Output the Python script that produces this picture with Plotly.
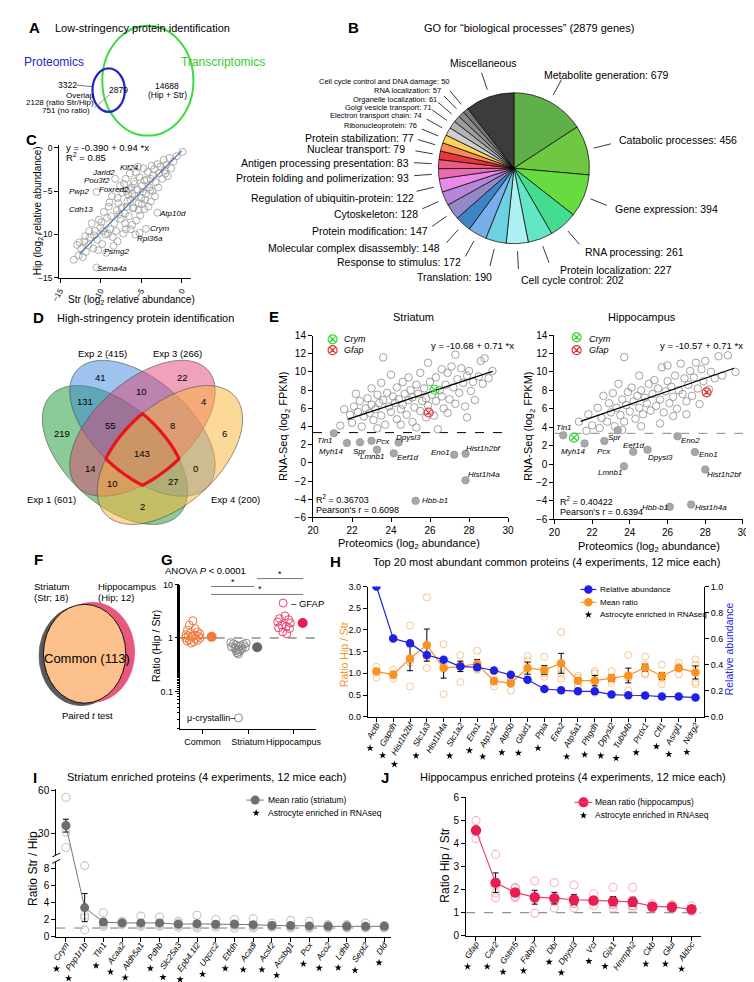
import numpy as np
import plotly.graph_objects as go

W, H = 754, 982
FONT = "Liberation Sans, Arial, Helvetica, sans-serif"

# ======================= DATA =======================
# ---- A: low-stringency identification
a_prot_only = 3322
a_overlap = 2879
a_transcr = 14688

# ---- B: GO pie (clockwise from 12 o'clock)
go_labels = ["Metabolite generation", "Catabolic processes", "Gene expression", "RNA processing",
             "Protein localization", "Cell cycle control", "Translation", "Response to stimulus",
             "Molecular complex disassembly", "Protein modification", "Cytoskeleton",
             "Regulation of ubiquitin-protein", "Protein folding and polimerization",
             "Antigen processing presentation", "Nuclear transport", "Protein stabilization",
             "Ribonucleoprotein", "Electron transport chain", "Golgi vesicle transport",
             "Organelle localization", "RNA localization", "Cell cycle control and DNA damage",
             "Miscellaneous"]
go_values = [679, 456, 394, 261, 227, 202, 190, 172, 148, 147, 128, 122, 93, 83, 79, 77, 76, 74, 71,
             61, 57, 50, 450]
go_colors = ["#5fb04a", "#6fc842", "#66dc40", "#44dc8e", "#62e6c6", "#aef1f2", "#6cd2e2", "#78aeea",
             "#3f84c6", "#9488c6", "#b686da", "#e88ae6", "#ec6cb4", "#ec5a7e", "#e6363e", "#f98a58",
             "#fcd25c", "#d0d0d0", "#b3b3b3", "#9c9c9c", "#8a8a8a", "#777777", "#3c3c3c"]

# ---- C: Str vs Hip relative abundance (log2)
c_points = [(0.1, -0.5), (-0.6, -1.0), (-1.0, -1.6), (-1.5, -1.2), (-1.3, -2.4), (-1.9, -2.0),
            (-2.2, -1.4), (-2.0, -3.0), (-2.6, -2.2), (-2.4, -3.6), (-2.8, -3.0), (-3.0, -1.9),
            (-3.2, -4.0), (-2.9, -4.6), (-3.5, -3.2), (-3.4, -2.5), (-3.0, -7.5), (-3.8, -3.6),
            (-4.0, -4.6), (-4.2, -2.8), (-4.4, -5.3), (-4.6, -3.8), (-4.7, -2.4), (-4.9, -4.4),
            (-5.0, -5.8), (-5.2, -3.4), (-5.3, -6.4), (-5.5, -4.8), (-5.6, -2.9), (-5.8, -5.6),
            (-5.9, -3.9), (-6.0, -7.0), (-6.2, -4.6), (-6.3, -6.0), (-6.5, -4.8), (-6.6, -5.4),
            (-6.8, -6.8), (-6.9, -3.6), (-7.0, -7.6), (-4.4, -9.35), (-5.7, -10.0), (-5.2, -9.8),
            (-3.8, -6.2), (-4.6, -7.1), (-5.1, -7.8), (-3.6, -5.0), (-4.1, -6.8), (-5.6, -8.4),
            (-6.1, -8.9), (-6.5, -7.9), (-4.9, -6.5), (-3.3, -5.6), (-6.9, -9.4), (-7.3, -5.2),
            (-7.5, -8.2), (-7.2, -9.9), (-7.8, -6.4), (-8.2, -3.6), (-7.6, -4.4), (-8.0, -7.2),
            (-8.3, -8.7), (-8.6, -5.6), (-8.8, -9.4), (-8.5, -10.3), (-9.0, -6.8), (-9.2, -8.1),
            (-9.4, -10.0), (-9.6, -7.4), (-9.8, -11.1), (-10.0, -9.2), (-10.2, -8.3), (-10.5, -5.1),
            (-10.4, -10.6), (-10.7, -9.6), (-10.9, -11.6), (-11.1, -8.7), (-11.3, -10.3),
            (-11.5, -11.2), (-11.8, -12.0), (-12.0, -10.8), (-12.4, -11.6), (-12.7, -12.4),
            (-12.9, -11.2), (-13.3, -12.9), (-10.5, -13.8), (-9.3, -12.1), (-8.4, -11.3),
            (-7.9, -10.8), (-6.4, -3.0), (-5.4, -2.2), (-7.1, -4.2), (-7.4, -6.9), (-6.7, -6.2),
            (-5.9, -6.9), (-4.8, -5.1), (-4.3, -3.7), (-3.9, -4.9), (-6.1, -5.3), (-7.7, -7.7),
            (-8.7, -7.9), (-9.9, -8.6), (-9.1, -9.9), (-8.1, -9.6), (-10.8, -10.1), (-11.4, -9.6),
            (-12.2, -12.6), (-2.1, -2.6), (-1.7, -3.3), (-3.7, -2.1), (-4.5, -6.0), (-5.8, -4.2),
            (-6.8, -5.0), (-7.9, -5.8), (-8.9, -6.3), (-9.7, -9.6), (-10.3, -11.8), (-11.9, -10.2),
            (-12.6, -10.9), (-6.3, -9.4), (-7.0, -8.7), (-5.3, -7.2)]
c_intercept, c_slope = -0.390, 0.94
c_fit_x = [-12.6, 0.0]

# ---- D: high-stringency 4-way overlap
d_region_counts = [41, 22, 10, 131, 4, 55, 8, 219, 6, 143, 14, 0, 10, 27, 2]
d_set_labels = ["Exp 1 (601)", "Exp 2 (415)", "Exp 3 (266)", "Exp 4 (200)"]

# ---- E: proteomics vs RNA-seq
e_str_pts = [(21.6, 5.9), (21.9, 5.3), (22.1, 6.2), (22.3, 5.6), (22.4, 6.8), (22.6, 5.1), (22.7, 6.0),
             (22.8, 7.1), (22.9, 5.5), (23.0, 6.4), (23.1, 4.7), (23.2, 5.9), (23.3, 7.5), (23.4, 6.6),
             (23.5, 5.2), (23.6, 11.6), (23.6, 6.9), (23.7, 4.2), (23.8, 7.7), (23.9, 6.2), (24.0, 5.6),
             (24.1, 7.3), (24.2, 6.6), (24.3, 4.8), (24.3, 8.3), (24.4, 7.0), (24.5, 5.9), (24.6, 8.9),
             (24.6, 6.4), (24.7, 7.6), (24.8, 5.3), (24.9, 9.4), (24.9, 6.9), (25.0, 8.0), (25.1, 4.5),
             (25.1, 7.2), (25.2, 6.1), (25.3, 8.6), (25.4, 7.6), (25.5, 5.7), (25.5, 9.9), (25.6, 6.8),
             (25.7, 8.2), (25.8, 7.1), (25.9, 11.0), (25.9, 6.3), (26.0, 8.9), (26.1, 7.5), (26.2, 5.2),
             (26.3, 9.4), (26.3, 6.8), (26.4, 3.7), (26.5, 8.0), (26.6, 10.3), (26.6, 7.3), (26.7, 6.0),
             (26.8, 8.6), (26.9, 9.9), (27.0, 7.0), (27.1, 10.6), (27.2, 8.3), (27.3, 11.9), (27.3, 6.5),
             (27.4, 9.2), (27.5, 7.7), (27.6, 10.4), (27.7, 8.8), (27.8, 6.2), (27.9, 9.6), (28.0, 10.1),
             (28.1, 7.9), (28.2, 8.9), (28.3, 6.9), (28.5, 9.5), (28.6, 11.2), (28.7, 8.7), (28.8, 11.5),
             (29.0, 9.3), (29.2, 10.1), (22.0, 4.4), (21.4, 4.1), (22.5, 4.0), (23.3, 3.8), (24.5, 4.2),
             (25.3, 3.9), (24.0, 9.7), (23.0, 8.2), (23.5, 8.8), (22.2, 7.6), (25.8, 5.0), (26.9, 5.5),
             (27.9, 5.0)]
e_str_low = [("Tln1", 21.07, 3.26), ("Myh14", 21.74, 2.2), ("Spr", 22.41, 2.28), ("Pcx", 23.0, 2.43),
             ("Lmnb1", 23.28, 1.45), ("Dpysl3", 24.39, 2.25), ("Eef1d", 24.14, 1.05), ("Eno1", 27.24, 0.9),
             ("Hist1h2bf", 27.82, 1.01), ("Hist1h4a", 27.82, -1.92), ("Hbb-b1", 25.26, -4.17)]
e_str_crym = (26.23, 8.04)
e_str_gfap = (25.93, 5.54)
e_str_fit = (-10.68, 0.71, 21.77, 29.21)

e_hip_pts = [(21.3, 4.6), (21.8, 5.4), (22.0, 4.2), (22.3, 6.1), (22.5, 5.0), (22.6, 7.4), (22.8, 4.6),
             (22.9, 6.6), (23.0, 5.6), (23.1, 7.7), (23.2, 4.1), (23.3, 6.1), (23.4, 8.7), (23.5, 5.3),
             (23.6, 7.0), (23.7, 4.6), (23.8, 6.4), (23.9, 7.8), (24.0, 5.7), (24.1, 8.3), (24.2, 6.8),
             (24.3, 4.9), (24.4, 7.4), (24.5, 9.6), (24.5, 6.1), (24.6, 8.0), (24.7, 5.4), (24.8, 7.2),
             (24.9, 6.6), (25.0, 8.7), (25.1, 5.8), (25.2, 7.6), (25.3, 9.1), (25.4, 6.3), (25.5, 8.2),
             (25.6, 7.0), (25.7, 10.5), (25.8, 5.6), (25.9, 7.9), (26.0, 9.0), (26.1, 6.6), (26.2, 8.4),
             (26.3, 7.3), (26.4, 9.6), (26.5, 6.0), (26.6, 8.0), (26.7, 10.9), (26.8, 7.6), (26.9, 9.3),
             (27.0, 6.8), (27.1, 8.6), (27.2, 10.1), (27.3, 7.4), (27.4, 9.4), (27.5, 11.0), (27.6, 8.2),
             (27.7, 6.5), (27.8, 10.3), (27.9, 9.0), (28.0, 11.2), (28.2, 8.1), (28.3, 10.0), (28.5, 9.3),
             (28.7, 11.7), (28.9, 9.6), (29.2, 11.8), (29.6, 10.0), (23.7, 11.6), (26.0, 10.7),
             (21.7, 3.6), (22.4, 3.9), (23.6, 3.7), (24.6, 4.1), (25.6, 4.4), (26.3, 5.2), (27.0, 5.4)]
e_hip_low = [("Tln1", 20.47, 3.12), ("Myh14", 21.6, 2.23), ("Pcx", 22.65, 2.5), ("Spr", 23.36, 3.66),
             ("Eef1d", 24.18, 1.33), ("Dpysl3", 24.94, 1.55), ("Lmnb1", 23.69, -0.25), ("Eno2", 26.53, 3.01),
             ("Eno1", 27.45, 1.29), ("Hist1h2bf", 28.0, -0.6), ("Hbb-b1", 26.12, -4.65),
             ("Hist1h4a", 27.25, -4.41)]
e_hip_crym = (21.04, 2.87)
e_hip_gfap = (28.07, 7.78)
e_hip_fit = (-10.57, 0.71, 21.39, 29.53)
e_threshold = 3.33

# ---- G: ratios Hip/Str
g_common = [2.1, 1.75, 1.5, 1.4, 1.3, 1.25, 1.2, 1.15, 1.12, 1.1, 1.08, 1.05, 1.0, 1.0, 0.97, 0.93, 0.9,
            0.88, 0.85, 0.8]
g_striatum = [0.82, 0.8, 0.78, 0.76, 0.74, 0.72, 0.7, 0.68, 0.67, 0.65, 0.63, 0.62, 0.6, 0.58, 0.56,
              0.53, 0.5]
g_mu_crystallin = 0.032
g_hippocampus = [2.6, 2.3, 2.2, 2.0, 1.9, 1.75, 1.65, 1.55, 1.5, 1.3, 1.2]
g_gfap = 4.5
g_means = [1.05, 0.67, 1.9]
g_groups = ["Common", "Striatum", "Hippocampus"]

# ---- H: top 20 abundant common proteins
h_genes = ["Actb", "Gapdh", "Hist1h2bf", "Slc1a3", "Hist1h4a", "Slc1a2", "Eno1", "Atp1a2", "Atp5b",
           "Glud1", "Ppia", "Eno2", "Atp5a1", "Phgdh", "Dpysl2", "Tubb4b", "Prdx1", "Cfl1", "Asrgl1",
           "Ndrg2"]
h_rel_abund = [1.0, 0.6, 0.565, 0.474, 0.438, 0.385, 0.38, 0.355, 0.322, 0.284, 0.213, 0.203, 0.195,
               0.195, 0.17, 0.165, 0.163, 0.155, 0.155, 0.147]
h_mean = [1.04, 0.97, 1.34, 1.65, 1.12, 1.16, 1.22, 0.82, 0.77, 1.12, 1.08, 1.23, 0.83, 0.83, 0.89,
          0.95, 1.13, 0.94, 1.12, 1.02]
h_sem = [0.04, 0.04, 0.28, 0.37, 0.23, 0.12, 0.1, 0.06, 0.06, 0.14, 0.1, 0.23, 0.06, 0.12, 0.07,
         0.17, 0.08, 0.08, 0.05, 0.15]
h_reps = [[1.15, 0.9, 1.05, 1.05], [1.08, 0.88, 0.95, 0.97], [2.1, 0.7, 1.3, 1.25], [2.75, 1.12, 1.4, 1.35],
          [1.67, 0.52, 1.2, 1.1], [1.42, 0.8, 1.2, 1.2], [1.52, 1.08, 1.1, 1.18], [0.7, 0.9, 0.85, 0.82],
          [0.6, 0.85, 0.8, 0.83], [1.4, 0.85, 1.3, 0.95], [1.38, 0.92, 1.0, 1.02], [1.95, 0.87, 1.1, 1.0],
          [0.95, 0.7, 0.75, 0.9], [1.05, 0.55, 0.8, 1.0], [1.05, 0.78, 0.85, 0.9], [1.42, 0.6, 0.9, 0.9],
          [1.38, 0.97, 1.2, 1.0], [1.2, 0.75, 0.9, 0.9], [1.25, 0.98, 1.15, 1.1], [1.32, 0.75, 0.8, 1.2]]
h_astro = [1, 1, 1, 1, 0, 1, 1, 1, 1, 1, 1, 0, 1, 1, 1, 1, 1, 1, 1, 1]

# ---- I: striatum enriched
i_genes = ["Crym", "Ppp1r1b", "Tln1", "Acaa2", "Aldh5a1", "Pdhb", "Slc25a3", "Epb4.1l2", "Uqcrc2", "Etfdh",
           "Acadl", "Acsf2", "Acsbg1", "Pcx", "Aco2", "Ldhb", "Sept2", "Dld"]
i_mean = [35.6, 3.4, 1.7, 1.6, 1.6, 1.6, 1.45, 1.5, 1.45, 1.45, 1.4, 1.3, 1.3, 1.25, 1.2, 1.2, 1.2, 1.2]
i_sem = [4.5, 1.65, 0.35, 0.15, 0.2, 0.2, 0.15, 0.3, 0.15, 0.2, 0.2, 0.15, 0.15, 0.15, 0.1, 0.1, 0.1, 0.1]
i_reps = [[55.5, 36, 31, 20.3], [8.34, 2.2, 0.78, 2.5], [2.8, 1.2, 1.5, 1.4], [1.8, 1.5, 1.4, 1.7],
          [2.4, 1.2, 1.4, 1.5], [2.3, 1.2, 1.4, 1.5], [1.8, 1.1, 1.3, 1.6], [2.5, 1.0, 1.2, 1.4],
          [2.0, 1.1, 1.3, 1.4], [2.0, 1.0, 1.3, 1.5], [2.1, 1.0, 1.2, 1.3], [1.6, 1.1, 1.2, 1.3],
          [1.9, 1.0, 1.1, 1.2], [1.8, 1.0, 1.1, 1.1], [1.4, 1.0, 1.1, 1.3], [1.3, 1.0, 1.1, 1.4],
          [1.6, 1.0, 1.1, 1.1], [1.3, 1.0, 1.1, 1.3]]
i_astro = [1] * 18

# ---- J: hippocampus enriched
j_genes = ["Gfap", "Car2", "Gstm5", "Fabp7", "Dbi", "Dpysl3", "Vcl", "Gja1", "Hnrnph2", "Ckb", "Glul", "Aldoc"]
j_mean = [4.56, 2.3, 1.87, 1.67, 1.63, 1.56, 1.53, 1.5, 1.47, 1.27, 1.25, 1.15]
j_sem = [0.12, 0.42, 0.1, 0.3, 0.25, 0.22, 0.1, 0.2, 0.2, 0.08, 0.1, 0.1]
j_reps = [[4.98, 4.2, 4.5, 4.6], [3.52, 1.65, 1.85, 2.2], [2.1, 2.05, 1.65, 1.7], [2.37, 0.98, 1.6, 1.7],
          [2.3, 1.2, 1.5, 1.5], [2.2, 1.2, 1.4, 1.4], [1.82, 1.3, 1.5, 1.5], [2.1, 1.2, 1.35, 1.35],
          [2.1, 1.2, 1.3, 1.3], [1.4, 1.2, 1.2, 1.25], [1.35, 1.15, 1.2, 1.3], [1.3, 1.05, 1.1, 1.15]]
j_astro = [1, 1, 1, 1, 1, 1, 1, 1, 0, 1, 1, 1]

# ======================= HELPERS =======================
fig = go.Figure()
annotations = []
shapes = []
star_x, star_y = [], []

CHAR_W = {'a': .556, 'b': .556, 'c': .5, 'd': .556, 'e': .556, 'f': .278, 'g': .556, 'h': .556, 'i': .222,
          'j': .222, 'k': .5, 'l': .222, 'm': .833, 'n': .556, 'o': .556, 'p': .556, 'q': .556, 'r': .333,
          's': .5, 't': .278, 'u': .556, 'v': .5, 'w': .722, 'x': .5, 'y': .5, 'z': .5, 'A': .667, 'C': .722,
          'D': .722, 'E': .667, 'G': .778, 'H': .722, 'L': .556, 'P': .667, 'S': .667, 'T': .611, 'U': .722,
          'V': .667, '.': .278, '-': .333}


def text_w(s, size):
    return sum(CHAR_W.get(ch, 0.556) for ch in s) * size


def dxp(p0, p1):
    return [p0 / W, p1 / W]


def dyp(top, bottom):
    return [1 - bottom / H, 1 - top / H]


def txt(x, y, text, size=10, color="black", xa="center", ya="middle", angle=0):
    annotations.append(dict(x=x, y=y, xref="x", yref="y", text=text, showarrow=False,
                            font=dict(size=size, color=color, family=FONT),
                            xanchor=xa, yanchor=ya, textangle=angle, borderpad=0))


def line(x0, y0, x1, y1, color="black", width=1, dash="solid"):
    shapes.append(dict(type="line", xref="x", yref="y", x0=x0, y0=y0, x1=x1, y1=y1,
                       line=dict(color=color, width=width, dash=dash), layer="above"))


def ellipse(cx, cy, rx, ry, fill="rgba(0,0,0,0)", color="black", width=1, layer="above"):
    shapes.append(dict(type="circle", xref="x", yref="y", x0=cx - rx, x1=cx + rx, y0=cy - ry, y1=cy + ry,
                       fillcolor=fill, line=dict(color=color, width=width), layer=layer))


def rot_ellipse_path(cx, cy, a, b, ang_deg, n=160):
    t = np.linspace(0, 2 * np.pi, n, endpoint=False)
    ang = np.radians(ang_deg)
    xs = cx + a * np.cos(t) * np.cos(ang) - b * np.sin(t) * np.sin(ang)
    ys = cy + a * np.cos(t) * np.sin(ang) + b * np.sin(t) * np.cos(ang)
    return "M " + " L ".join(f"{x:.2f},{y:.2f}" for x, y in zip(xs, ys)) + " Z"


base_ax = dict(showline=True, linecolor="black", linewidth=1, ticks="outside", ticklen=4, tickwidth=1,
               tickcolor="black", showgrid=False, zeroline=False,
               tickfont=dict(size=9, family=FONT, color="black"), fixedrange=True)


def ax(**kw):
    d = dict(base_ax)
    d.update(kw)
    return d


def stars(genes, flags, xdom, xrange_, axis_y, angle, fsize, off):
    x0p, x1p = xdom
    r0, r1 = xrange_
    ca, sa = np.cos(np.radians(angle)), np.sin(np.radians(angle))
    for i, (g, f) in enumerate(zip(genes, flags)):
        if not f:
            continue
        tp = x0p + (i - r0) / (r1 - r0) * (x1p - x0p)
        w = text_w(g, fsize)
        star_x.append(tp - w * ca + 2)
        star_y.append(axis_y + w * sa + off)


layout_axes = {}
# canvas axis (pixel coordinates)
layout_axes["xaxis"] = dict(domain=[0, 1], range=[0, W], visible=False, fixedrange=True)
layout_axes["yaxis"] = dict(domain=[0, 1], range=[H, 0], visible=False, fixedrange=True)
fig.add_trace(go.Scatter(x=[0], y=[0], mode="markers", marker=dict(opacity=0), xaxis="x", yaxis="y",
                         showlegend=False, hoverinfo="skip"))

# panel letters
for L, x, y in [("A", 18, 15), ("B", 343, 15), ("C", 15, 128), ("D", 22, 308), ("E", 262, 307),
                ("F", 22, 553), ("G", 153, 553), ("H", 325, 555), ("I", 18, 773), ("J", 375, 773)]:
    txt(x, y, f"<b>{L}</b>", size=15)

# ======================= A =======================
txt(38, 15, "Low-stringency protein identification", size=11, xa="left")
ellipse(133.5, 68.5, 46.5, 55.5, color="#3ddc3d", width=2)
ellipse(93.5, 78, 16.5, 22, color="#2424c8", width=2.2)
txt(37.7, 49.3, "Proteomics", size=12, color="#2424c8")
txt(210, 49.3, "Transcriptomics", size=12, color="#33cc33")
txt(51.7, 73, f"{a_prot_only}", size=8.5)
line(61, 73, 77, 74.5, color="#555", width=0.8)
txt(103.3, 77.7, f"{a_overlap}", size=8.5)
txt(153.3, 74.3, f"{a_transcr}", size=8.5)
txt(153.3, 82.7, "(Hip + Str)", size=8.5)
txt(65, 83.3, "Overlap", size=8)
txt(44, 91, "2128 (ratio Str/Hip)", size=8)
txt(50, 99, "751 (no ratio)", size=8)
line(79, 96, 95, 82, color="#777", width=0.8)

# ======================= B (pie) =======================
txt(522.7, 15, "GO for \u201cbiological processes\u201d (2879 genes)", size=11)
pie_cx, pie_cy, pie_r = 507, 157, 77
fig.add_trace(go.Pie(values=go_values, labels=go_labels, sort=False, direction="clockwise", rotation=0,
                     marker=dict(colors=go_colors, line=dict(color="black", width=0.7)),
                     textinfo="none", hoverinfo="skip", showlegend=False,
                     domain=dict(x=dxp(pie_cx - pie_r, pie_cx + pie_r), y=dyp(pie_cy - pie_r, pie_cy + pie_r))))
BIG, SML = 10.5, 7.5
pie_label_pos = [(537, 63, "left", BIG), (613, 128, "left", BIG), (609, 198, "left", BIG),
                 (579, 242, "left", BIG), (553, 260, "left", BIG), (513, 270, "left", BIG),
                 (486, 267, "right", BIG), (454, 252, "right", BIG), (433, 238, "right", BIG),
                 (420, 220, "right", BIG), (410, 203, "right", BIG), (406, 187, "right", BIG),
                 (401, 167, "right", BIG), (401, 152, "right", BIG), (397, 138, "right", BIG),
                 (406, 126, "right", BIG), (409, 114, "right", SML), (414, 104, "right", SML),
                 (424, 96, "right", SML), (430, 87, "right", SML), (434, 78, "right", SML),
                 (443, 69, "right", SML), (476, 51, "center", BIG)]
tot = float(sum(go_values))
cum = np.concatenate([[0], np.cumsum(go_values)])
for i, (lab, val) in enumerate(zip(go_labels, go_values)):
    x, y, xa, sz = pie_label_pos[i]
    t = lab if lab == "Miscellaneous" else f"{lab}: {val}"
    txt(x, y, t, size=sz, xa=xa)
    th = 2 * np.pi * (cum[i] + val / 2) / tot
    r0, r1 = pie_r + 7, pie_r + 25
    line(pie_cx + r0 * np.sin(th), pie_cy - r0 * np.cos(th), pie_cx + r1 * np.sin(th),
         pie_cy - r1 * np.cos(th), color="#222", width=0.9)

# ======================= C =======================
layout_axes["xaxis2"] = ax(domain=dxp(43.1, 177.1), range=[-15.1, 1.1], anchor="y2",
                           tickvals=[-15, -10, -5, 0], tickangle=-60, tickfont=dict(size=8, family=FONT))
layout_axes["yaxis2"] = ax(domain=dyp(133.4, 268), range=[-15, 0.3], anchor="x2",
                           tickvals=[-15, -10, -5, 0], tickfont=dict(size=8.5, family=FONT))
fig.add_trace(go.Scatter(x=[p[0] for p in c_points], y=[p[1] for p in c_points], mode="markers",
                         marker=dict(symbol="circle-open", size=7, color="#9a9a9a", line=dict(width=0.8)),
                         xaxis="x2", yaxis="y2", showlegend=False, hoverinfo="skip"))
fig.add_trace(go.Scatter(x=c_fit_x, y=[c_intercept + c_slope * v for v in c_fit_x], mode="lines",
                         line=dict(color="#3a6fb0", width=1.2), xaxis="x2", yaxis="y2",
                         showlegend=False, hoverinfo="skip"))
txt(49.3, 136, "y = -0.390 + 0.94 *x", size=9.5, xa="left")
txt(49.3, 145.5, "R<sup>2</sup> = 0.85", size=9.5, xa="left")
for g, x, y in [("Jarid2", 88.3, 161.5), ("Kif24", 115, 156.7), ("Pou3f2", 81.7, 169.8), ("Pwp2", 63.3, 180.7),
                ("Foxred2", 99, 178.3), ("Cdh13", 65.7, 198.3), ("Atp10d", 158.3, 202.7),
                ("Crym", 145.7, 218.3), ("Rpl36a", 136, 228.3), ("Psmg2", 101.7, 241.7),
                ("Sema4a", 96.7, 258.3)]:
    txt(x, y, f"<i>{g}</i>", size=8)
txt(117, 290, "Str (log<sub>2</sub> relative abundance)", size=10)
txt(21, 200, "Hip (log<sub>2</sub> relative abundance)", size=10, angle=-90)

# ======================= D =======================
txt(40, 308, "High-stringency protein identification", size=11, xa="left")
d_ells = [(100, 447, 89, 50, 42, "rgba(30,155,55,0.52)"),     # Exp 1 green
          (128, 420, 89, 48, 41, "rgba(50,130,220,0.48)"),    # Exp 2 blue
          (128, 420, 89, 48, -41, "rgba(222,60,110,0.48)"),   # Exp 3 pink
          (156, 447, 89, 50, -42, "rgba(250,180,60,0.52)")]   # Exp 4 yellow
for cx, cy, a, b, ang, col in d_ells:
    shapes.append(dict(type="path", xref="x", yref="y", path=rot_ellipse_path(cx, cy, a, b, ang),
                       fillcolor=col, line=dict(color="rgba(70,70,70,0.75)", width=0.8), layer="above"))
# boundary of the 4-way intersection
p0 = np.array([128.0, 447.0])
pts = []
for th in np.linspace(0, 2 * np.pi, 400, endpoint=False):
    d = np.array([np.cos(th), np.sin(th)])
    tmin = 1e9
    for cx, cy, a, b, ang, _ in d_ells:
        an = np.radians(ang)
        u = np.array([np.cos(an), np.sin(an)])
        nn = np.array([-np.sin(an), np.cos(an)])
        pc = p0 - np.array([cx, cy])
        pu, pn = pc @ u, pc @ nn
        du, dn = d @ u, d @ nn
        A_ = du ** 2 / a ** 2 + dn ** 2 / b ** 2
        B_ = 2 * (pu * du / a ** 2 + pn * dn / b ** 2)
        C_ = pu ** 2 / a ** 2 + pn ** 2 / b ** 2 - 1
        tt = (-B_ + np.sqrt(B_ * B_ - 4 * A_ * C_)) / (2 * A_)
        tmin = min(tmin, tt)
    pts.append(p0 + tmin * d)
red_path = "M " + " L ".join(f"{p[0]:.2f},{p[1]:.2f}" for p in pts) + " Z"
shapes.append(dict(type="path", xref="x", yref="y", path=red_path, fillcolor="rgba(0,0,0,0)",
                   line=dict(color="#e8141c", width=3.2), layer="above"))
d_region_pos = [(85, 368.3), (169.3, 368.3), (126.7, 382.3), (69, 392.7), (190, 392.7), (95.7, 417.3),
                (158.7, 417.3), (45.7, 425), (211.3, 425.7), (127.3, 445.7), (75.3, 461), (181.7, 461),
                (97.3, 476), (159.3, 474.3), (127.7, 499.3)]
for cnt, (x, y) in zip(d_region_counts, d_region_pos):
    txt(x, y, str(cnt), size=9.5)
for lab, (x, y) in zip(d_set_labels, [(35, 491.7), (87.3, 344), (163.3, 344), (222.7, 491.7)]):
    txt(x, y, lab, size=9.5)

# ======================= E =======================
for k, (xax, yax, xd, yd, pts_, low, crym, gfap, fit, dashcol, title, tx) in enumerate([
        ("x3", "y3", (302, 501), (326.2, 510.2), e_str_pts, e_str_low, e_str_crym, e_str_gfap, e_str_fit,
         "black", "Striatum", 405),
        ("x4", "y4", (548.3, 740.7), (325.7, 512), e_hip_pts, e_hip_low, e_hip_crym, e_hip_gfap, e_hip_fit,
         "#888888", "Hippocampus", 638)]):
    n = xax[1:]
    layout_axes["xaxis" + n] = ax(domain=dxp(*xd), range=[20, 30], anchor=yax,
                                  tickvals=list(range(20, 31, 2)), tickfont=dict(size=10, family=FONT))
    layout_axes["yaxis" + n] = ax(domain=dyp(*yd), range=[-6, 14], anchor=xax,
                                  tickvals=list(range(-6, 15, 2)), tickfont=dict(size=10, family=FONT))
    fig.add_trace(go.Scatter(x=[20, 30], y=[e_threshold, e_threshold], mode="lines",
                             line=dict(color=dashcol, width=1, dash="dash"), xaxis=xax, yaxis=yax,
                             showlegend=False, hoverinfo="skip"))
    fig.add_trace(go.Scatter(x=[p[0] for p in pts_], y=[p[1] for p in pts_], mode="markers",
                             marker=dict(symbol="circle-open", size=7.5, color="#8a8a8a", line=dict(width=0.8)),
                             xaxis=xax, yaxis=yax, showlegend=False, hoverinfo="skip"))
    fig.add_trace(go.Scatter(x=[p[1] for p in low], y=[p[2] for p in low], mode="markers",
                             marker=dict(symbol="circle", size=7.5, color="#a8a8a8",
                                         line=dict(color="#8c8c8c", width=0.6)),
                             xaxis=xax, yaxis=yax, showlegend=False, hoverinfo="skip"))
    b0, b1, fx0, fx1 = fit
    fig.add_trace(go.Scatter(x=[fx0, fx1], y=[b0 + b1 * fx0, b0 + b1 * fx1], mode="lines",
                             line=dict(color="black", width=1.3), xaxis=xax, yaxis=yax,
                             showlegend=False, hoverinfo="skip"))
    fig.add_trace(go.Scatter(x=[crym[0]], y=[crym[1]], mode="markers",
                             marker=dict(symbol="circle-x-open", size=9, color="#2fd62f", line=dict(width=1.2)),
                             xaxis=xax, yaxis=yax, showlegend=False, hoverinfo="skip"))
    fig.add_trace(go.Scatter(x=[gfap[0]], y=[gfap[1]], mode="markers",
                             marker=dict(symbol="circle-x-open", size=9, color="#e03030", line=dict(width=1.2)),
                             xaxis=xax, yaxis=yax, showlegend=False, hoverinfo="skip"))
    txt(tx, 307.5, title, size=11)

# E legends, labels, equations
fig.add_trace(go.Scatter(x=[322, 571], y=[330, 328], mode="markers",
                         marker=dict(symbol="circle-x-open", size=9, color="#2fd62f", line=dict(width=1.2)),
                         xaxis="x", yaxis="y", showlegend=False, hoverinfo="skip"))
fig.add_trace(go.Scatter(x=[322, 571], y=[341, 341], mode="markers",
                         marker=dict(symbol="circle-x-open", size=9, color="#e03030", line=dict(width=1.2)),
                         xaxis="x", yaxis="y", showlegend=False, hoverinfo="skip"))
for x in (333, 583):
    txt(x, 330, "<i>Crym</i>", size=9, xa="left")
    txt(x, 341, "<i>Gfap</i>", size=9, xa="left")
txt(465, 336, "y = -10.68 + 0.71 *x", size=9.5)
txt(698, 336, "y = -10.57 + 0.71 *x", size=9.5)
txt(304, 492, "R<sup>2</sup> = 0.36703", size=9, xa="left")
txt(304, 503, "Pearson's r = 0.6098", size=9, xa="left")
txt(553, 494, "R<sup>2</sup> = 0.40422", size=9, xa="left")
txt(553, 505, "Pearson's r = 0.6394", size=9, xa="left")
for g, x, y in [("Tln1", 314, 432), ("Myh14", 321, 443), ("Spr", 349, 443), ("Pcx", 373, 433),
                ("Lmnb1", 362, 449), ("Dpysl3", 399, 429), ("Eef1d", 398, 450), ("Eno1", 432, 444),
                ("Hist1h2bf", 476, 440), ("Hist1h4a", 476, 467), ("Hbb-b1", 426, 493),
                ("Tln1", 558, 419), ("Myh14", 568, 443), ("Pcx", 599, 443), ("Spr", 610, 429),
                ("Eef1d", 629, 437), ("Dpysl3", 657, 450), ("Lmnb1", 605, 465), ("Eno2", 687, 432),
                ("Eno1", 706, 447), ("Hist1h2bf", 722, 467), ("Hbb-b1", 651, 500), ("Hist1h4a", 708, 500)]:
    txt(x, y, f"<i>{g}</i>", size=8)
txt(400, 537, "Proteomics (log<sub>2</sub> abundance)", size=11)
txt(645, 540, "Proteomics (log<sub>2</sub> abundance)", size=11)
txt(273, 418, "RNA-Seq (log<sub>2</sub> FPKM)", size=11, angle=-90)
txt(523, 418, "RNA-Seq (log<sub>2</sub> FPKM)", size=11, angle=-90)

# ======================= F =======================
ellipse(65.5, 650, 43, 50.5, fill="#5a5a5a", color="#5a5a5a", width=0.8, layer="below")
ellipse(77, 646.5, 43, 50.5, fill="#e8587c", color="#e8587c", width=0.8, layer="below")
ellipse(69, 648, 42, 50, fill="#fbc08c", color="black", width=0.9, layer="below")
txt(71.7, 653, "Common (113)", size=13)
txt(72, 710, "Paired <i>t</i> test", size=9.5)
txt(16, 580, "Striatum", size=9.5, xa="left")
txt(16, 591, "(Str; 18)", size=9.5, xa="left")
txt(82, 580, "Hippocampus", size=9.5, xa="left")
txt(82, 591, "(Hip; 12)", size=9.5, xa="left")

# ======================= G =======================
layout_axes["xaxis5"] = ax(domain=dxp(166, 305), range=[-0.5, 2.49], anchor="y5", tickvals=[0, 1, 2],
                           ticktext=g_groups, tickangle=0, tickfont=dict(size=9, family=FONT))
layout_axes["yaxis5"] = ax(domain=dyp(578, 724), type="log", range=[-1.7, 1], anchor="x5",
                           tickvals=[0.1, 1, 10], ticktext=["0.1", "1", "10"],
                           minor=dict(ticks="outside", ticklen=2, tickcolor="black", showgrid=False))
fig.add_trace(go.Scatter(x=[-0.5, 2.49], y=[1, 1], mode="lines", line=dict(color="#555", width=1, dash="dash"),
                         xaxis="x5", yaxis="y5", showlegend=False, hoverinfo="skip"))
g_common_dx = [0, -0.08, 0.05, -0.12, 0.1, -0.05, 0.15, -0.15, 0.04, -0.1, 0.12, -0.02, -0.16, 0.16, 0.06,
               -0.08, 0.1, -0.13, 0.02, -0.04]
g_str_dx = [-0.17, 0.17, -0.11, 0.11, -0.06, 0.06, 0, -0.15, 0.15, -0.08, 0.08, -0.02, 0.04, -0.05, 0.02,
            -0.03, 0.0]
g_hip_dx = [0.02, -0.1, 0.1, -0.14, 0.14, -0.05, 0.05, -0.12, 0.12, -0.03, 0.06]
for gi, vals, dxs, col in [(0, g_common, g_common_dx, "#f07a3a"),
                           (1, g_striatum + [g_mu_crystallin], g_str_dx + [0], "#8a8a8a"),
                           (2, g_hippocampus + [g_gfap], g_hip_dx + [-0.02], "#e8406e")]:
    fig.add_trace(go.Scatter(x=[gi - 0.21 + d for d in dxs], y=vals, mode="markers",
                             marker=dict(symbol="circle-open", size=8, color=col, line=dict(width=1)),
                             xaxis="x5", yaxis="y5", showlegend=False, hoverinfo="skip"))
fig.add_trace(go.Scatter(x=[0.2, 1.2, 2.2], y=g_means, mode="markers",
                         marker=dict(size=10, color=["#f07a3a", "#666666", "#e81e52"]),
                         xaxis="x5", yaxis="y5", showlegend=False, hoverinfo="skip"))
txt(192, 564, "ANOVA <i>P</i> < 0.0001", size=9.5)
txt(223, 713, "\u03bc-crystallin\u2013", size=9, xa="right")
txt(279, 597, "\u2013 GFAP", size=9.5, xa="left")
line(198, 580, 242, 580, color="#666", width=0.9)
txt(220, 575, "*", size=9)
line(245, 572, 292, 572, color="#666", width=0.9)
txt(268, 567, "*", size=9)
line(198, 588, 292, 588, color="#666", width=0.9)
txt(248, 583, "*", size=9)
txt(142, 640, "Ratio (Hip / Str)", size=10.5, angle=-90)

# ======================= H =======================
txt(362, 555, "Top 20 most abundant common proteins (4 experiments, 12 mice each)", size=11, xa="left")
h_idx = list(range(len(h_genes)))
layout_axes["xaxis6"] = ax(domain=dxp(358, 701), range=[-0.51, 19.51], anchor="y6", tickvals=h_idx,
                           ticktext=[f"<i>{g}</i>" for g in h_genes], tickangle=-60, ticklabelstandoff=-5,
                           tickfont=dict(size=8.5, family=FONT))
layout_axes["yaxis6"] = ax(domain=dyp(580, 711.7), range=[0, 3], anchor="x6",
                           tickvals=[0, 0.5, 1, 1.5, 2, 2.5, 3], tickformat=".1f")
layout_axes["yaxis7"] = ax(range=[0, 1], anchor="x6", overlaying="y6", side="right",
                           tickvals=[0, 0.2, 0.4, 0.6, 0.8, 1.0], tickformat=".1f")
fig.add_trace(go.Scatter(x=[i for i in h_idx for _ in h_reps[i]], y=[v for r in h_reps for v in r],
                         mode="markers", marker=dict(symbol="circle-open", size=7, color="rgba(245,160,80,0.6)",
                                                     line=dict(width=1)),
                         xaxis="x6", yaxis="y6", showlegend=False, hoverinfo="skip"))
fig.add_trace(go.Scatter(x=h_idx, y=h_mean, mode="lines+markers",
                         line=dict(color="#f7931e", width=1.2), marker=dict(size=8.5, color="#f7931e"),
                         error_y=dict(type="data", array=h_sem, color="black", thickness=1, width=3),
                         xaxis="x6", yaxis="y6", showlegend=False, hoverinfo="skip"))
fig.add_trace(go.Scatter(x=h_idx, y=h_rel_abund, mode="lines+markers",
                         line=dict(color="#1f1fe6", width=1.2), marker=dict(size=8.5, color="#1f1fe6"),
                         xaxis="x6", yaxis="y7", showlegend=False, hoverinfo="skip"))
stars(h_genes, h_astro, (358, 701), (-0.51, 19.51), 711.7, 60, 8.5, 17)
txt(333, 648, "Ratio Hip / Str", size=10.5, color="#f7931e", angle=-90)
txt(726, 643, "Relative abundance", size=10.5, color="#1f1fe6", angle=-90)
# legend
line(575, 583, 591, 583, color="#1f1fe6", width=1.2)
line(575, 596, 591, 596, color="#f7931e", width=1.2)
fig.add_trace(go.Scatter(x=[583, 583], y=[583, 596], mode="markers",
                         marker=dict(size=8.5, color=["#1f1fe6", "#f7931e"]),
                         xaxis="x", yaxis="y", showlegend=False, hoverinfo="skip"))
txt(594, 583, "Relative abundance", size=8, xa="left")
txt(594, 596, "Mean ratio", size=8, xa="left")
star_x.append(583)
star_y.append(608.5)
txt(594, 608.5, "Astrocyte enriched in RNAseq", size=8, xa="left")

# ======================= I =======================
txt(50, 773, "Striatum enriched proteins (4 experiments, 12 mice each)", size=11, xa="left")
I_LOW_TOP, I_UP_START, I_UP_BASE, I_UP_SCALE = 8.8, 15.0, 9.58, 0.16783


def brk(v):
    v = np.asarray(v, dtype=float)
    mid = I_LOW_TOP + (v - I_LOW_TOP) * (I_UP_BASE - I_LOW_TOP) / (I_UP_START - I_LOW_TOP)
    return np.where(v <= I_LOW_TOP, v, np.where(v >= I_UP_START, I_UP_BASE + (v - I_UP_START) * I_UP_SCALE, mid))


i_idx = list(range(len(i_genes)))
i_ticks = [0, 2, 4, 6, 8, 30, 60]
layout_axes["xaxis8"] = ax(domain=dxp(40, 382), range=[-0.52, 17.38], anchor="y8", tickvals=i_idx,
                           ticktext=[f"<i>{g}</i>" for g in i_genes], tickangle=-55, ticklabelstandoff=-5,
                           tickfont=dict(size=8.5, family=FONT))
layout_axes["yaxis8"] = ax(domain=dyp(785.2, 934), range=[0, 17.3], anchor="x8",
                           tickvals=list(brk(i_ticks)), ticktext=[str(t) for t in i_ticks],
                           tickfont=dict(size=10, family=FONT))
fig.add_trace(go.Scatter(x=[-0.52, 17.38], y=list(brk([1, 1])), mode="lines",
                         line=dict(color="#777", width=1, dash="dash"),
                         xaxis="x8", yaxis="y8", showlegend=False, hoverinfo="skip"))
fig.add_trace(go.Scatter(x=[i for i in i_idx for _ in i_reps[i]], y=list(brk([v for r in i_reps for v in r])),
                         mode="markers", marker=dict(symbol="circle-open", size=8, color="#c4c4c4",
                                                     line=dict(width=1.1)),
                         xaxis="x8", yaxis="y8", showlegend=False, hoverinfo="skip"))
im, isd = np.array(i_mean), np.array(i_sem)
fig.add_trace(go.Scatter(x=i_idx, y=list(brk(im)), mode="lines+markers",
                         line=dict(color="#777777", width=1), marker=dict(size=9, color="#6e6e6e"),
                         error_y=dict(type="data", symmetric=False, array=list(brk(im + isd) - brk(im)),
                                      arrayminus=list(brk(im) - brk(im - isd)), color="black",
                                      thickness=1, width=3),
                         xaxis="x8", yaxis="y8", showlegend=False, hoverinfo="skip"))
# axis break marks
shapes.append(dict(type="rect", xref="x", yref="y", x0=36, x1=44, y0=851.5, y1=858.5,
                   fillcolor="white", line=dict(width=0), layer="above"))
line(36, 853.5, 44, 849.5, width=1)
line(36, 860, 44, 856, width=1)
stars(i_genes, i_astro, (40, 382), (-0.52, 17.38), 934, 55, 8.5, 16)
txt(17, 865, "Ratio Str / Hip", size=12, angle=-90)
line(234, 796, 252, 796, color="#777777", width=1)
fig.add_trace(go.Scatter(x=[243], y=[796], mode="markers", marker=dict(size=9, color="#6e6e6e"),
                         xaxis="x", yaxis="y", showlegend=False, hoverinfo="skip"))
txt(255, 795.5, "Mean ratio (striatum)", size=8.5, xa="left")
star_x.append(244)
star_y.append(809)
txt(255, 809, "Astrocyte enriched in RNAseq", size=8.5, xa="left")

# ======================= J =======================
txt(410, 773, "Hippocampus enriched proteins (4 experiments, 12 mice each)", size=11, xa="left")
j_idx = list(range(len(j_genes)))
layout_axes["xaxis9"] = ax(domain=dxp(458.3, 698), range=[-0.5, 11.49], anchor="y9", tickvals=j_idx,
                           ticktext=[f"<i>{g}</i>" for g in j_genes], tickangle=-55, ticklabelstandoff=-5,
                           tickfont=dict(size=8.5, family=FONT))
layout_axes["yaxis9"] = ax(domain=dyp(792.9, 933.3), range=[0, 6], anchor="x9", tickvals=list(range(0, 7)),
                           tickfont=dict(size=10, family=FONT))
fig.add_trace(go.Scatter(x=[-0.5, 11.49], y=[1, 1], mode="lines", line=dict(color="#777", width=1, dash="dash"),
                         xaxis="x9", yaxis="y9", showlegend=False, hoverinfo="skip"))
fig.add_trace(go.Scatter(x=[i for i in j_idx for _ in j_reps[i]], y=[v for r in j_reps for v in r],
                         mode="markers", marker=dict(symbol="circle-open", size=8, color="rgba(236,120,150,0.55)",
                                                     line=dict(width=1.1)),
                         xaxis="x9", yaxis="y9", showlegend=False, hoverinfo="skip"))
fig.add_trace(go.Scatter(x=j_idx, y=j_mean, mode="lines+markers",
                         line=dict(color="#f0407a", width=1.2), marker=dict(size=10.5, color="#e81e52"),
                         error_y=dict(type="data", array=j_sem, color="black", thickness=1, width=3),
                         xaxis="x9", yaxis="y9", showlegend=False, hoverinfo="skip"))
stars(j_genes, j_astro, (458.3, 698), (-0.5, 11.49), 933.3, 55, 8.5, 16)
txt(437, 862, "Ratio Hip / Str", size=12, angle=-90)
line(569, 798.3, 587, 798.3, color="#f0407a", width=1.2)
fig.add_trace(go.Scatter(x=[578], y=[798.3], mode="markers", marker=dict(size=10, color="#e81e52"),
                         xaxis="x", yaxis="y", showlegend=False, hoverinfo="skip"))
txt(589, 798, "Mean ratio (hippocampus)", size=8.5, xa="left")
star_x.append(578)
star_y.append(811.5)
txt(589, 811.5, "Astrocyte enriched in RNAseq", size=8.5, xa="left")

# astrocyte-enriched star markers
fig.add_trace(go.Scatter(x=star_x, y=star_y, mode="markers",
                         marker=dict(symbol="star", size=5.5, color="black", line=dict(width=0)),
                         xaxis="x", yaxis="y", showlegend=False, hoverinfo="skip"))

# ======================= LAYOUT =======================
fig.update_layout(width=W, height=H, margin=dict(l=0, r=0, t=0, b=0), paper_bgcolor="white",
                  plot_bgcolor="rgba(0,0,0,0)", showlegend=False, font=dict(family=FONT, color="black"),
                  annotations=annotations, shapes=shapes, **layout_axes)
fig.write_html("out.html")
